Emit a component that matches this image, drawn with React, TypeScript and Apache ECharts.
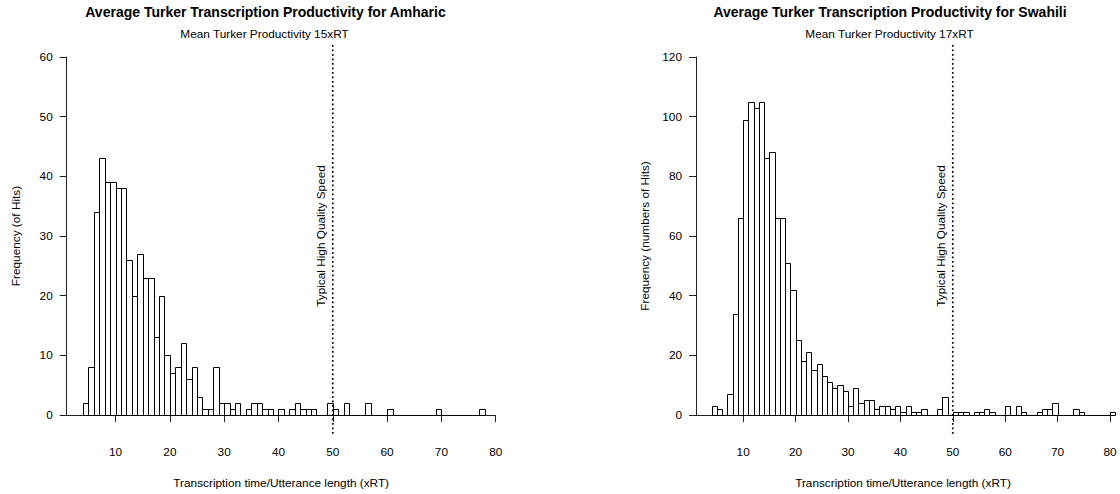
import React, { useEffect, useRef } from "react";
import * as echarts from "echarts";

// Histogram bins are 1 xRT wide, starting at these values
const amharicFirstBin = 4;
const amharicCounts = [
  2, 8, 34, 43, 39, 39, 38, 38, 26, 20, 27, 23, 23, 13, 20, 10, 7, 8, 12, 6, 8, 3, 1, 1, 8, 2, 2, 1, 2, 0,
  1, 2, 2, 1, 1, 0, 1, 0, 1, 2, 1, 1, 1, 0, 0, 2, 1, 0, 2, 0, 0, 0, 2, 0, 0, 0, 1, 0, 0, 0,
  0, 0, 0, 0, 0, 1, 0, 0, 0, 0, 0, 0, 0, 1,
];
const swahiliFirstBin = 4;
const swahiliCounts = [
  3, 2, 0, 7, 34, 66, 99, 105, 103, 105, 86, 88, 66, 66, 51, 42, 25, 18, 21, 15, 17, 13, 11, 9, 10, 8, 3, 9, 4, 5,
  5, 2, 3, 3, 2, 3, 1, 3, 1, 1, 2, 0, 0, 2, 6, 0, 1, 1, 1, 0, 1, 1, 2, 1, 0, 0, 3, 0, 3, 1,
  0, 0, 1, 2, 2, 4, 0, 0, 0, 2, 1, 0, 0, 0, 0, 0, 1,
];
const xTickValues = [10, 20, 30, 40, 50, 60, 70, 80];
const amharicMean = 15;
const swahiliMean = 17;
const typicalSpeed = 50;

const titles = [
  "Average Turker Transcription Productivity for Amharic",
  "Average Turker Transcription Productivity for Swahili",
];
const subtitles = [`Mean Turker Productivity ${amharicMean}xRT`, `Mean Turker Productivity ${swahiliMean}xRT`];
const yNames = ["Frequency (of Hits)", "Frequency (numbers of Hits)"];
const xName = "Transcription time/Utterance length (xRT)";
const speedLabel = "Typical High Quality Speed";

const FONT = "'Liberation Sans', Arial, Helvetica, sans-serif";
const FS = 11.8;

function toBins(first: number, counts: number[]) {
  return counts.map((c, i) => [first + i, first + i + 1, c]);
}

const renderBar = (params: any, api: any) => {
  const x0 = api.value(0);
  const x1 = api.value(1);
  const c = api.value(2);
  const p0 = api.coord([x0, c]);
  const p1 = api.coord([x1, 0]);
  const l = Math.round(p0[0]) + 0.5;
  const r = Math.round(p1[0]) + 0.5;
  const t = Math.round(p0[1]) + 0.5;
  const b = Math.round(p1[1]) + 0.5;
  if (c === 0) {
    return {
      type: "line",
      shape: { x1: l, y1: b, x2: r, y2: b },
      style: { stroke: "#000", lineWidth: 1 },
    };
  }
  return {
    type: "rect",
    shape: { x: l, y: t, width: r - l, height: b - t },
    style: { fill: "#fff", stroke: "#000", lineWidth: 1 },
  };
};

export default function App() {
  const ref = useRef<HTMLDivElement>(null);
  useEffect(() => {
    if (!ref.current) return;
    const chart = echarts.init(ref.current, null, { renderer: "svg" });
    const axisText = { color: "#000", fontSize: FS, fontFamily: FONT };
    const mkX = (gridIndex: number) => ({
      type: "value",
      gridIndex,
      min: 1,
      max: 80,
      offset: 15,
      axisLine: { show: true, lineStyle: { color: "#222", width: 1 } },
      axisTick: { show: true, length: 7, customValues: xTickValues, lineStyle: { color: "#222" } },
      axisLabel: { ...axisText, margin: 16, customValues: xTickValues },
      splitLine: { show: false },
      name: xName,
      nameLocation: "middle",
      nameGap: 47,
      nameTextStyle: axisText,
    });
    const mkY = (gridIndex: number, max: number, interval: number, name: string) => ({
      type: "value",
      gridIndex,
      min: 0,
      max,
      interval,
      axisLine: { show: true, lineStyle: { color: "#222", width: 1 } },
      axisTick: { show: true, length: 7, lineStyle: { color: "#222" } },
      axisLabel: { ...axisText, margin: 14 },
      splitLine: { show: false },
      name,
      nameLocation: "middle",
      nameGap: 45,
      nameTextStyle: axisText,
    });
    const refLine = (xIdx: number, top: number, bottom: number) => ({
      type: "line",
      xAxisIndex: xIdx,
      yAxisIndex: xIdx,
      data: [
        [typicalSpeed, top],
        [typicalSpeed, bottom],
      ],
      symbol: "none",
      clip: false,
      silent: true,
      z: 5,
      lineStyle: { color: "#000", width: 1.7, type: [1.7, 2.8] },
    });
    const txt = (text: string, x: number, y: number, font: string, rotation = 0) => ({
      type: "text",
      x,
      y,
      rotation,
      style: { text, font, fill: "#000", align: "center", verticalAlign: "middle" },
    });
    chart.setOption({
      animation: false,
      backgroundColor: "#fff",
      grid: [
        { left: 66.7, right: 624.3, top: 57, bottom: 77 },
        { left: 696, right: 10, top: 57, bottom: 77 },
      ],
      xAxis: [mkX(0), mkX(1)],
      yAxis: [mkY(0, 60, 10, yNames[0]), mkY(1, 120, 20, yNames[1])],
      series: [
        {
          type: "custom",
          xAxisIndex: 0,
          yAxisIndex: 0,
          data: toBins(amharicFirstBin, amharicCounts),
          encode: { x: [0, 1], y: 2 },
          renderItem: renderBar,
          clip: false,
          silent: true,
        },
        {
          type: "custom",
          xAxisIndex: 1,
          yAxisIndex: 1,
          data: toBins(swahiliFirstBin, swahiliCounts),
          encode: { x: [0, 1], y: 2 },
          renderItem: renderBar,
          clip: false,
          silent: true,
        },
        refLine(0, 62, -3.3),
        refLine(1, 124, -6.6),
      ],
      graphic: [
        txt(titles[0], 265.5, 12, `bold 14px ${FONT}`),
        txt(titles[1], 890, 12, `bold 14px ${FONT}`),
        txt(subtitles[0], 264.5, 34, `${FS}px ${FONT}`),
        txt(subtitles[1], 889.5, 34, `${FS}px ${FONT}`),
        txt(speedLabel, 321, 236, `${FS}px ${FONT}`, Math.PI / 2),
        txt(speedLabel, 941, 236, `${FS}px ${FONT}`, Math.PI / 2),
      ],
    });
    return () => chart.dispose();
  }, []);
  return (
    <div
      ref={ref}
      style={{ position: "fixed", left: 0, top: 0, width: 1120, height: 494, background: "#fff" }}
    />
  );
}
